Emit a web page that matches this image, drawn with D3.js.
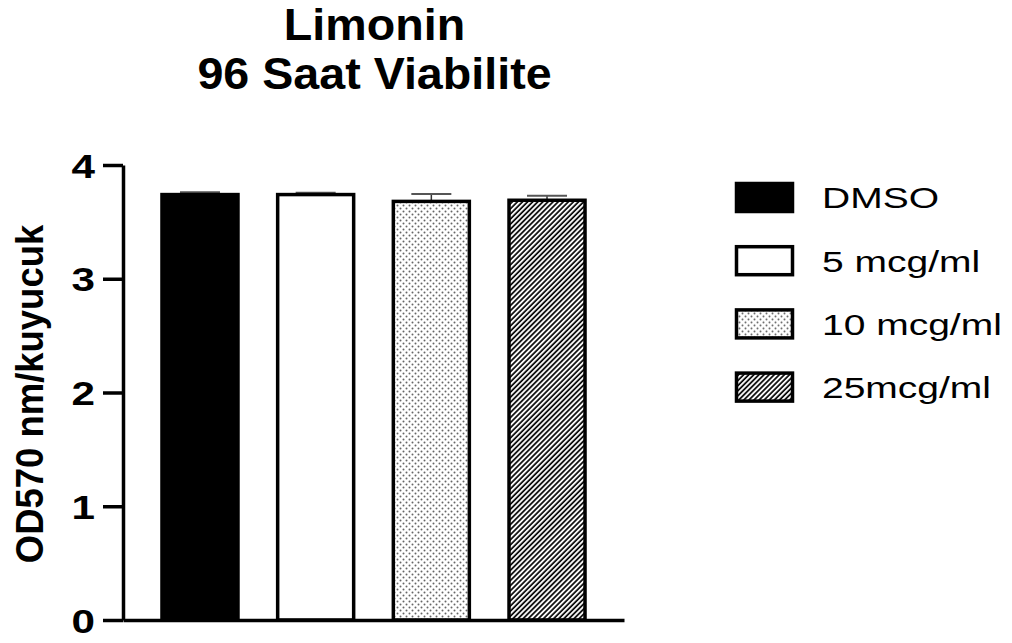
<!DOCTYPE html>
<html>
<head>
<meta charset="utf-8">
<script src="https://cdn.jsdelivr.net/npm/d3@7"></script>
<style>
  body { margin: 0; background: #fff; }
  text { font-family: "Liberation Sans", Arial, sans-serif; }
</style>
</head>
<body>
<div id="chart"></div>
<script>
// data
const categories = ["DMSO", "5 mcg/ml", "10 mcg/ml", "25mcg/ml"];
const means = [3.74, 3.74, 3.68, 3.69];
const sds = [0.02, 0.015, 0.065, 0.04];
const yTicks = [0, 1, 2, 3, 4];
const fills = ["#000", "#fff", "url(#dots)", "url(#hatch)"];

const width = 1012, height = 643;
const svg = d3.select("#chart").append("svg")
  .attr("width", width)
  .attr("height", height);

// patterns for the bars
const defs = svg.append("defs");
const dots = defs.append("pattern")
  .attr("id", "dots")
  .attr("patternUnits", "userSpaceOnUse")
  .attr("width", 6).attr("height", 6);
dots.append("rect").attr("width", 6).attr("height", 6).attr("fill", "#fff");
dots.append("circle").attr("cx", 1.5).attr("cy", 1.5).attr("r", 1).attr("fill", "#666");
dots.append("circle").attr("cx", 4.5).attr("cy", 4.5).attr("r", 1).attr("fill", "#666");

const hatch = defs.append("pattern")
  .attr("id", "hatch")
  .attr("patternUnits", "userSpaceOnUse")
  .attr("width", 3.6).attr("height", 3.6)
  .attr("patternTransform", "rotate(45)");
hatch.append("rect").attr("width", 3.6).attr("height", 3.6).attr("fill", "#fff");
hatch.append("line")
  .attr("x1", 1).attr("x2", 1).attr("y1", 0).attr("y2", 3.6)
  .attr("stroke", "#000").attr("stroke-width", 1.7);

// scales
const x = d3.scaleBand()
  .domain(categories)
  .range([123, 624])
  .paddingInner(0.343)
  .paddingOuter(0.337);

const y = d3.scaleLinear()
  .domain([0, 4])
  .range([620, 165]);

// error bars (upward only), drawn under the bars
const err = svg.append("g");
categories.forEach((c, i) => {
  const cx = x(c) + x.bandwidth() / 2;
  err.append("line")
    .attr("x1", cx).attr("x2", cx)
    .attr("y1", y(means[i])).attr("y2", y(means[i] + sds[i]))
    .attr("stroke", "#333").attr("stroke-width", 1.5);
  err.append("line")
    .attr("x1", cx - 20).attr("x2", cx + 20)
    .attr("y1", y(means[i] + sds[i])).attr("y2", y(means[i] + sds[i]))
    .attr("stroke", "#555").attr("stroke-width", 2);
});

// bars
svg.selectAll(".bar")
  .data(categories)
  .enter()
  .append("rect")
  .attr("class", "bar")
  .attr("x", d => x(d))
  .attr("y", (d, i) => y(means[i]))
  .attr("width", x.bandwidth())
  .attr("height", (d, i) => y(0) - y(means[i]))
  .attr("fill", (d, i) => fills[i])
  .attr("stroke", "#000")
  .attr("stroke-width", 3.5);

// axes
const yAxis = svg.append("g")
  .attr("transform", "translate(123,0)")
  .call(d3.axisLeft(y).tickValues(yTicks).tickSize(20).tickSizeOuter(0).tickFormat(d3.format("d")));
yAxis.select(".domain").attr("stroke", "#000").attr("stroke-width", 3.5);
yAxis.selectAll(".tick line").attr("stroke", "#000").attr("stroke-width", 3.5);
yAxis.selectAll(".tick text")
  .attr("x", null).attr("dy", null)
  .attr("text-anchor", "end")
  .attr("transform", "translate(-28,12) scale(1.28,1)")
  .style("font-family", "'Liberation Sans', Arial, sans-serif")
  .style("font-size", "33px")
  .style("font-weight", "bold")
  .attr("fill", "#000");

const xAxis = svg.append("g")
  .attr("transform", "translate(0,620)")
  .call(d3.axisBottom(x).tickSize(0).tickSizeOuter(0).tickFormat(""));
xAxis.select(".domain").attr("stroke", "#000").attr("stroke-width", 3.5);

// axis title
svg.append("text")
  .attr("transform", "translate(43,394) rotate(-90) scale(0.96,1)")
  .attr("text-anchor", "middle")
  .style("font-size", "38px")
  .style("font-weight", "bold")
  .text("OD570 nm/kuyucuk");

// chart title
const titleLines = ["Limonin", "96 Saat Viabilite"];
const titleY = [40, 89];
svg.selectAll(".title")
  .data(titleLines)
  .enter()
  .append("text")
  .attr("class", "title")
  .attr("transform", (d, i) => `translate(374.5,${titleY[i]}) scale(1.06,1)`)
  .attr("text-anchor", "middle")
  .style("font-size", "44px")
  .style("font-weight", "bold")
  .text(d => d);

// legend
const legend = svg.selectAll(".legend")
  .data(categories)
  .enter()
  .append("g")
  .attr("class", "legend")
  .attr("transform", (d, i) => `translate(735,${197.5 + i * 63.2})`);

legend.append("rect")
  .attr("x", 1.5).attr("y", -14)
  .attr("width", 56).attr("height", 28)
  .attr("fill", (d, i) => fills[i])
  .attr("stroke", "#000")
  .attr("stroke-width", 3.5);

legend.append("text")
  .attr("transform", "translate(87,10.8) scale(1.3,1)")
  .style("font-size", "30px")
  .text(d => d);
</script>
</body>
</html>
